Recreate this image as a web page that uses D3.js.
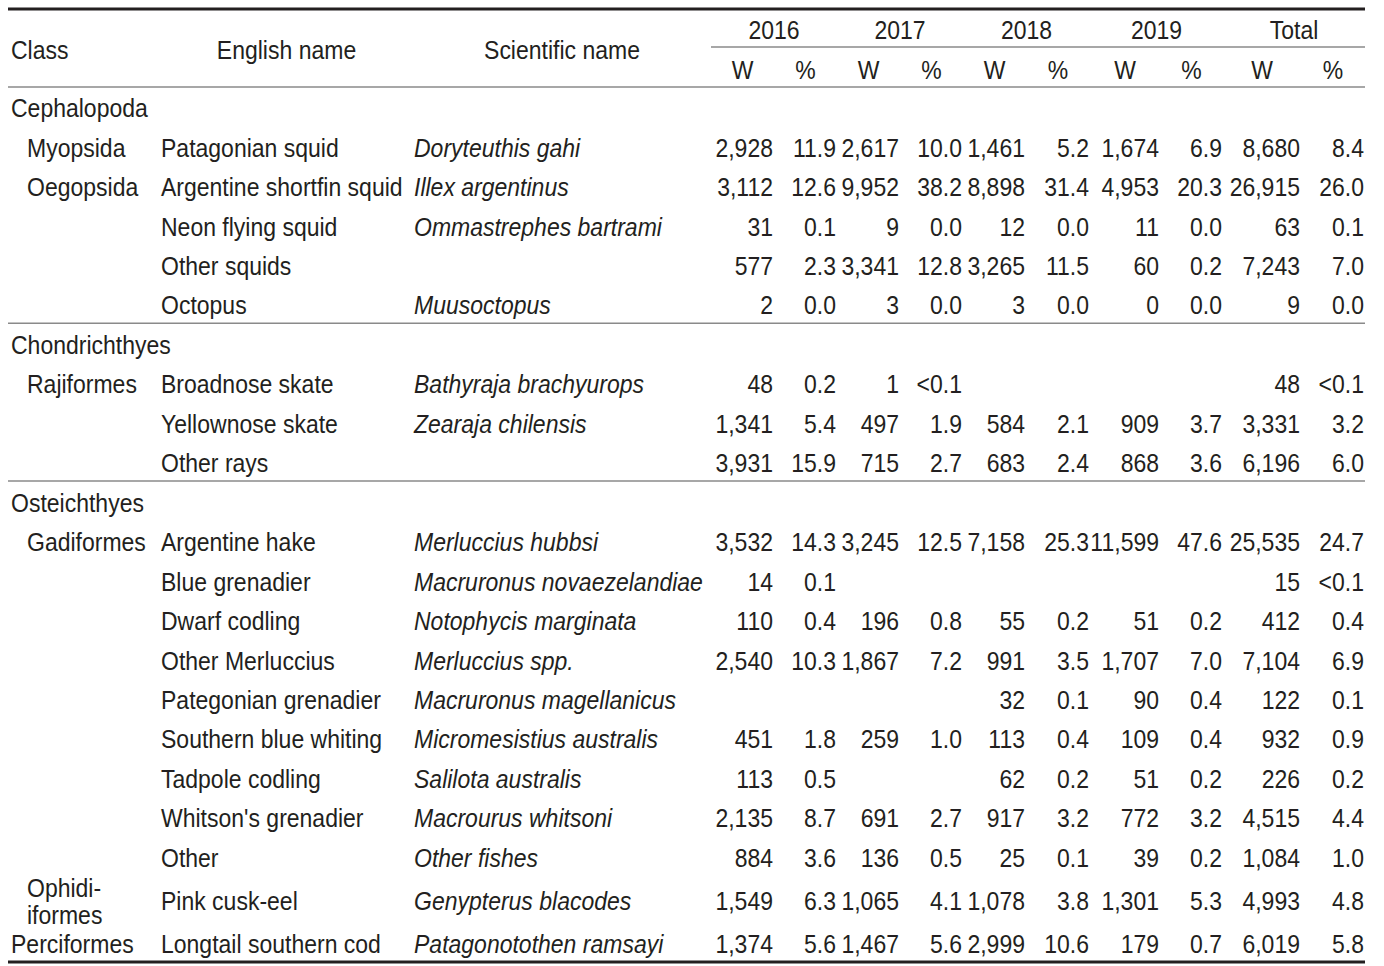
<!DOCTYPE html>
<html>
<head>
<meta charset="utf-8">
<script src="https://cdn.jsdelivr.net/npm/d3@7"></script>
<style>
  html, body { margin: 0; padding: 0; background: #fff; }
  svg { display: block; }
  text { font-family: "Liberation Sans", Arial, Helvetica, sans-serif; fill: #231f20; }
</style>
</head>
<body>
<svg id="chart" width="1384" height="966"></svg>
<script>
// ---------------- DATA ----------------
const years = ["2016", "2017", "2018", "2019", "Total"];
const subHeaders = ["W", "%"];

// row kinds: "group" = class header row, "row" = species row
const rowKinds   = ["group","row","row","row","row","row","group","row","row","row","group","row","row","row","row","row","row","row","row","row","row","row"];
const classNames = ["Cephalopoda","Myopsida","Oegopsida","","","","Chondrichthyes","Rajiformes","","","Osteichthyes","Gadiformes","","","","","","","","","Ophidi-|iformes","Perciformes"];
const englishNames = ["","Patagonian squid","Argentine shortfin squid","Neon flying squid","Other squids","Octopus","","Broadnose skate","Yellownose skate","Other rays","","Argentine hake","Blue grenadier","Dwarf codling","Other Merluccius","Pategonian grenadier","Southern blue whiting","Tadpole codling","Whitson's grenadier","Other","Pink cusk-eel","Longtail southern cod"];
const scientificNames = ["","Doryteuthis gahi","Illex argentinus","Ommastrephes bartrami","","Muusoctopus","","Bathyraja brachyurops","Zearaja chilensis","","","Merluccius hubbsi","Macruronus novaezelandiae","Notophycis marginata","Merluccius spp.","Macruronus magellanicus","Micromesistius australis","Salilota australis","Macrourus whitsoni","Other fishes","Genypterus blacodes","Patagonotothen ramsayi"];

const w2016 = [null,2928,3112,31,577,2,null,48,1341,3931,null,3532,14,110,2540,null,451,113,2135,884,1549,1374];
const p2016 = [null,"11.9","12.6","0.1","2.3","0.0",null,"0.2","5.4","15.9",null,"14.3","0.1","0.4","10.3",null,"1.8","0.5","8.7","3.6","6.3","5.6"];
const w2017 = [null,2617,9952,9,3341,3,null,1,497,715,null,3245,null,196,1867,null,259,null,691,136,1065,1467];
const p2017 = [null,"10.0","38.2","0.0","12.8","0.0",null,"<0.1","1.9","2.7",null,"12.5",null,"0.8","7.2",null,"1.0",null,"2.7","0.5","4.1","5.6"];
const w2018 = [null,1461,8898,12,3265,3,null,null,584,683,null,7158,null,55,991,32,113,62,917,25,1078,2999];
const p2018 = [null,"5.2","31.4","0.0","11.5","0.0",null,null,"2.1","2.4",null,"25.3",null,"0.2","3.5","0.1","0.4","0.2","3.2","0.1","3.8","10.6"];
const w2019 = [null,1674,4953,11,60,0,null,null,909,868,null,11599,null,51,1707,90,109,51,772,39,1301,179];
const p2019 = [null,"6.9","20.3","0.0","0.2","0.0",null,null,"3.7","3.6",null,"47.6",null,"0.2","7.0","0.4","0.4","0.2","3.2","0.2","5.3","0.7"];
const wTotal = [null,8680,26915,63,7243,9,null,48,3331,6196,null,25535,15,412,7104,122,932,226,4515,1084,4993,6019];
const pTotal = [null,"8.4","26.0","0.1","7.0","0.0",null,"<0.1","3.2","6.0",null,"24.7","<0.1","0.4","6.9","0.1","0.9","0.2","4.4","1.0","4.8","5.8"];

const numericCols = [w2016,p2016,w2017,p2017,w2018,p2018,w2019,p2019,wTotal,pTotal];

// ---------------- LAYOUT ----------------
const svg = d3.select("#chart");
const FS = 25, SX = 0.92;
const fmt = d3.format(",");

// column edges
const edges = [8,160,413,711,774,837,900,963,1026,1090,1160,1223,1301,1365];
const left = edges[0], right = edges[edges.length-1];

// row layout: cumulative heights
const rowH = 39.45, twoLineH = 47;
const rowHeights = rowKinds.map((k,i) => classNames[i].includes("|") ? twoLineH : rowH);
const rowTops = [];
let t = 88.5;
rowHeights.forEach(h => { rowTops.push(t); t += h; });
const yCenter = i => rowTops[i] + rowHeights[i]/2;

function txt(g, x, y, s, anchor, italic) {
  return g.append("text")
    .attr("transform", `translate(${x},${y}) scale(${SX},1)`)
    .attr("text-anchor", anchor || "start")
    .style("font-size", FS + "px")
    .style("font-style", italic ? "italic" : "normal")
    .text(s);
}

// ---------------- RULES ----------------
const rules = svg.append("g");
rules.append("line").attr("x1", left).attr("x2", right).attr("y1", 9).attr("y2", 9)
  .attr("stroke", "#231f20").attr("stroke-width", 3);
rules.append("line").attr("x1", edges[3]).attr("x2", right).attr("y1", 47).attr("y2", 47)
  .attr("stroke", "#8a8a8a").attr("stroke-width", 1.6);
rules.append("line").attr("x1", left).attr("x2", right).attr("y1", 87).attr("y2", 87)
  .attr("stroke", "#8a8a8a").attr("stroke-width", 1.6);
// separators before group rows (except first)
rowKinds.forEach((k,i) => {
  if (k === "group" && i > 0) {
    const y = rowTops[i] - 2;
    rules.append("line").attr("x1", left).attr("x2", right).attr("y1", y).attr("y2", y)
      .attr("stroke", "#8a8a8a").attr("stroke-width", 1.6);
  }
});
const last = rowTops.length - 1;
const bottomY = rowTops[last] + rowHeights[last] - 2;
rules.append("line").attr("x1", left).attr("x2", right).attr("y1", bottomY).attr("y2", bottomY)
  .attr("stroke", "#231f20").attr("stroke-width", 3);

// ---------------- HEADER ----------------
const head = svg.append("g");
txt(head, 11, 59, "Class");
txt(head, (edges[1]+edges[2])/2, 59, "English name", "middle");
txt(head, (edges[2]+edges[3])/2, 59, "Scientific name", "middle");
years.forEach((yr, j) => {
  const a = edges[3 + 2*j], b = edges[5 + 2*j];
  txt(head, (a+b)/2, 39, yr, "middle");
  subHeaders.forEach((s, k) => {
    const c0 = edges[3 + 2*j + k], c1 = edges[4 + 2*j + k];
    txt(head, (c0+c1)/2, 79, s, "middle");
  });
});

// ---------------- BODY ----------------
const body = svg.append("g");
rowKinds.forEach((kind, i) => {
  const yc = yCenter(i), yb = yc + 9;
  if (kind === "group") {
    txt(body, 11, yb, classNames[i]);
    return;
  }
  const cn = classNames[i];
  if (cn.includes("|")) {
    const parts = cn.split("|");
    txt(body, 27, yb - 13.5, parts[0]);
    txt(body, 27, yb + 13.5, parts[1]);
  } else if (cn) {
    const x0 = cn.length > 10 ? 11 : 27;
    txt(body, x0, yb, cn);
  }
  if (englishNames[i]) txt(body, 161, yb, englishNames[i]);
  if (scientificNames[i]) txt(body, 414, yb, scientificNames[i], "start", true);
  numericCols.forEach((col, c) => {
    const v = col[i];
    if (v === null || v === undefined) return;
    const s = typeof v === "number" ? fmt(v) : v;
    txt(body, edges[4 + c] - 1, yb, s, "end");
  });
});
</script>
</body>
</html>
